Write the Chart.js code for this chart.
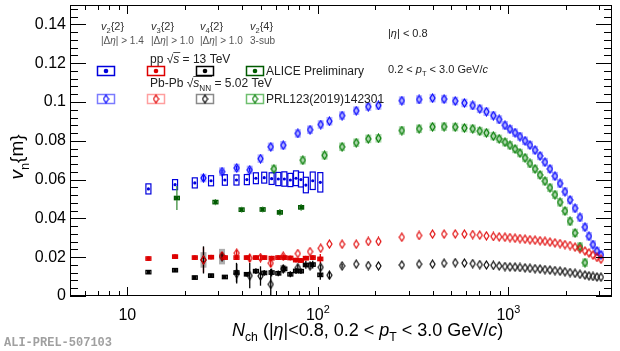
<!DOCTYPE html>
<html>
<head>
<meta charset="utf-8">
<script src="https://cdn.jsdelivr.net/npm/chart.js@4"></script>
<style>
html, body { margin: 0; padding: 0; background: #fff; }
</style>
</head>
<body>
<canvas id="vnChart" width="620" height="351"></canvas>
<script>
// pp 13 TeV (ALICE Preliminary)
const ppNch = [12.9, 17.8, 22.6, 27.5, 32.5, 37.4, 42.4, 47.3, 52.3, 57.2, 62, 66.7, 71.7, 76.8, 81.5, 86.5, 94, 103];
const ppV22 = [0.0552, 0.0574, 0.0583, 0.0594, 0.0598, 0.0598, 0.06, 0.0607, 0.061, 0.0605, 0.0603, 0.0603, 0.0598, 0.0607, 0.06, 0.0572, 0.0594, 0.0586];
const ppV22Sys = [0.0026, 0.0026, 0.0026, 0.0026, 0.0027, 0.0026, 0.0026, 0.0028, 0.0028, 0.003, 0.0034, 0.0037, 0.0034, 0.0038, 0.0038, 0.004, 0.0045, 0.005];
const ppV32 = [0.0193, 0.0203, 0.0198, 0.02, 0.0198, 0.0198, 0.0198, 0.0198, 0.0198, 0.0195, 0.0198, 0.0198, 0.0196, 0.0185, 0.0183, 0.0195, 0.0198, 0.0191];
const ppV32Err = [0.0005, 0.0005, 0.0005, 0.0005, 0.0005, 0.0005, 0.0005, 0.0005, 0.0005, 0.0005, 0.0005, 0.0005, 0.0006, 0.0008, 0.0008, 0.001, 0.001, 0.0025];
const ppV42 = [0.0123, 0.0133, 0.0095, 0.0105, 0.0098, 0.0121, 0.0112, 0.0128, 0.0119, 0.0121, 0.0117, 0.014, 0.0112, 0.0129, 0.0128, 0.016, 0.0162, 0.0109];
const ppV42Err = [0.0005, 0.0005, 0.0008, 0.0008, 0.0008, 0.005, 0.001, 0.0015, 0.0015, 0.002, 0.0015, 0.0015, 0.0015, 0.0015, 0.0015, 0.002, 0.002, 0.0025];
const ppV24Nch = [18.2, 29, 39.8, 51.3, 63.2, 81.7];
const ppV24 = [0.0505, 0.0484, 0.0445, 0.0446, 0.0431, 0.0457];
const ppV24Err = [0.0062, 0.0016, 0.0015, 0.0015, 0.0017, 0.0017];

// Pb-Pb 5.02 TeV, PRL123(2019)142301
const pbNch = [25.1, 31.4, 37.5, 43.9, 50, 56.6, 65.8, 78.5, 91, 103.5, 115, 134, 159, 184, 208, 276, 340, 400,
  460, 526, 588, 650, 708, 767, 834, 895, 960,
  1020, 1084, 1151, 1223, 1299, 1380, 1466, 1557, 1654, 1757, 1867, 1983, 2107, 2238, 2377, 2525,
  2650, 2781, 2919, 3063];
const pbV22 = [0.0608, 0.0641, 0.066, 0.065, 0.0708, 0.0769, 0.0777, 0.0838, 0.0857, 0.0884, 0.0901, 0.093, 0.0955, 0.0976, 0.0982, 0.1007, 0.1013, 0.102,
  0.1015, 0.1005, 0.0995, 0.0982, 0.0965, 0.095, 0.093, 0.091, 0.088,
  0.086, 0.0842, 0.0822, 0.08, 0.0778, 0.0752, 0.0722, 0.069, 0.0655, 0.0618, 0.058, 0.0538, 0.0495, 0.0452, 0.0405, 0.0355,
  0.0308, 0.0265, 0.0232, 0.0212];
const pbV22Err = [0.0015, 0.001, 0.001, 0.001];
const pbV32 = [0.0186, 0.0207, 0.0221, 0.0195, 0.0198, 0.0169, 0.0205, 0.0219, 0.0229, 0.0246, 0.0268, 0.0267, 0.0267, 0.0281, 0.0281, 0.0303, 0.0312, 0.0319,
  0.0319, 0.032, 0.0319, 0.0317, 0.0314, 0.031, 0.0307, 0.0305, 0.0303,
  0.0301, 0.0298, 0.0296, 0.0293, 0.029, 0.0288, 0.0285, 0.0282, 0.0278, 0.0274, 0.027, 0.0265, 0.026, 0.0252, 0.0243, 0.0232,
  0.0222, 0.0211, 0.0199, 0.019];
const pbV32Err = [0.0065, 0.002, 0.0015, 0.002, 0.0015, 0.002, 0.001];
const pbV42 = [0.0186, 0.0203, 0.0115, 0.0105, 0.0103, 0.006, 0.014, 0.0146, 0.0155, 0.0148, 0.0107, 0.0155, 0.0164, 0.0157, 0.0155, 0.016, 0.0164, 0.0164,
  0.0169, 0.0172, 0.017, 0.0167, 0.0162, 0.016, 0.0158, 0.0155, 0.0152,
  0.015, 0.0149, 0.0147, 0.0145, 0.0143, 0.0141, 0.0139, 0.0136, 0.0134, 0.0131, 0.0128, 0.0125, 0.0121, 0.0117, 0.0112, 0.0108,
  0.0104, 0.0101, 0.0098, 0.0097];
const pbV42Err = [0.007, 0.002, 0.005, 0.0065, 0.005, 0.008, 0.002, 0.0015, 0.0015, 0.0015, 0.002, 0.001];
const pbV42Sys = [0.004, 0.004, 0, 0, 0, 0, 0.002];
const pbV24Nch = [58.8, 83.4, 108.5, 134, 159, 184, 208, 276, 340, 400,
  460, 526, 588, 650, 708, 767, 834, 895, 960,
  1020, 1084, 1151, 1223, 1299, 1380, 1466, 1557, 1654, 1757, 1867, 1983, 2107, 2238, 2377, 2525];
const pbV24 = [0.0655, 0.07, 0.0725, 0.0769, 0.079, 0.081, 0.0813, 0.0853, 0.0862, 0.0872,
  0.0873, 0.0871, 0.0866, 0.0862, 0.085, 0.0841, 0.0824, 0.081, 0.0793,
  0.0777, 0.0758, 0.0737, 0.0712, 0.0683, 0.0655, 0.0624, 0.0592, 0.0558, 0.0522, 0.0483, 0.0438, 0.0385, 0.0325, 0.0255, 0.0172];
const pbV2Sys = 0.0022;

const yTicks = [0, 0.02, 0.04, 0.06, 0.08, 0.1, 0.12, 0.14];
const xDecades = [10, 100, 1000];

const FONT = '"Liberation Sans", Arial, Helvetica, sans-serif';

function pts(xs, ys) {
  return xs.map((v, i) => ({ x: v, y: ys[i] }));
}

// tall open diamond like ROOT marker 27
function diamond(color) {
  const c = document.createElement('canvas');
  c.width = 7; c.height = 10;
  const g = c.getContext('2d');
  g.strokeStyle = color;
  g.lineWidth = 1.15;
  g.beginPath();
  g.moveTo(3.5, 1); g.lineTo(6, 5); g.lineTo(3.5, 9); g.lineTo(1, 5); g.closePath();
  g.stroke();
  return c;
}
const dBlue = diamond('#0000ff');
const dRed = diamond('#e00000');
const dBlack = diamond('#000000');
const dGreen = diamond('#007a00');

function richText(ctx, parts, x, y, size, align) {
  let w = 0;
  const items = parts.map(([t, k]) => {
    const small = k === 'sub' || k === 'sup' || k === 'isub';
    const fs = small ? size * 0.68 : size;
    const font = (k === 'i' || k === 'isub' ? 'italic ' : '') + fs + 'px ' + FONT;
    ctx.font = font;
    const tw = ctx.measureText(t).width;
    const dy = (k === 'sub' || k === 'isub') ? size * 0.3 : k === 'sup' ? -size * 0.42 : 0;
    const it = { t, font, tw, dy, x0: w };
    w += tw;
    return it;
  });
  const sx = align === 'center' ? x - w / 2 : align === 'right' ? x - w : x;
  for (const it of items) {
    ctx.font = it.font;
    ctx.fillText(it.t, sx + it.x0, y + it.dy);
  }
  return { x: sx, w, items };
}

const rootStyle = {
  id: 'rootStyle',
  beforeDatasetsDraw(chart) {
    const { ctx, chartArea: a, scales: { x, y } } = chart;
    ctx.save();
    ctx.beginPath();
    ctx.rect(a.left, a.top, a.right - a.left, a.bottom - a.top);
    ctx.clip();
    // filled boxes first, then outlines and error bars
    for (const pass of [0, 1]) {
      chart.data.datasets.forEach(ds => {
        ds.data.forEach((p, i) => {
          const px = x.getPixelForValue(p.x);
          const s = ds.sys ? ds.sys[i] : ds.sysAll;
          if (s && pass === 0 && ds.boxFill) {
            const y1 = y.getPixelForValue(p.y + s), y2 = y.getPixelForValue(p.y - s);
            ctx.fillStyle = ds.boxFill;
            ctx.fillRect(px - ds.boxWidth / 2, y1, ds.boxWidth, y2 - y1);
          }
          if (s && pass === 1 && ds.boxLine) {
            const y1 = y.getPixelForValue(p.y + s), y2 = y.getPixelForValue(p.y - s);
            ctx.strokeStyle = ds.boxLine;
            ctx.lineWidth = 1.2;
            ctx.strokeRect(px - ds.boxWidth / 2, y1, ds.boxWidth, y2 - y1);
          }
          const e = ds.err ? ds.err[i] : 0;
          if (e && pass === 1) {
            ctx.strokeStyle = ds.errColor;
            ctx.lineWidth = 1.3;
            ctx.beginPath();
            ctx.moveTo(px, y.getPixelForValue(p.y + e));
            ctx.lineTo(px, y.getPixelForValue(p.y - e));
            ctx.stroke();
          }
        });
      });
    }
    ctx.restore();
  },
  afterDraw(chart) {
    const { ctx, chartArea: a, scales: { x, y } } = chart;
    ctx.save();
    ctx.strokeStyle = '#000';
    ctx.lineWidth = 1;
    ctx.strokeRect(a.left + 0.5, a.top + 0.5, a.right - a.left - 1, a.bottom - a.top - 1);

    // y ticks, mirrored on the right
    ctx.beginPath();
    for (let k = 0; k <= 37; k++) {
      const v = k * 0.004;
      const py = Math.round(y.getPixelForValue(v)) + 0.5;
      const len = k % 5 === 0 ? 16 : 8;
      ctx.moveTo(a.left, py); ctx.lineTo(a.left + len, py);
      ctx.moveTo(a.right, py); ctx.lineTo(a.right - len, py);
    }
    // x ticks, mirrored on top
    for (let d = 1; d <= 1000; d *= 10) {
      for (let m = 1; m <= 9; m++) {
        const v = d * m;
        if (v < 5 || v > 3500) continue;
        const px = Math.round(x.getPixelForValue(v)) + 0.5;
        const len = m === 1 ? 9 : 5;
        ctx.moveTo(px, a.bottom); ctx.lineTo(px, a.bottom - len);
        ctx.moveTo(px, a.top); ctx.lineTo(px, a.top + len);
      }
    }
    ctx.stroke();

    ctx.fillStyle = '#000';
    ctx.font = '16px ' + FONT;
    ctx.textAlign = 'right';
    ctx.textBaseline = 'middle';
    yTicks.forEach(v => ctx.fillText(String(v), a.left - 4, y.getPixelForValue(v)));
    ctx.textAlign = 'left';
    ctx.textBaseline = 'alphabetic';
    xDecades.forEach((v, i) => {
      const parts = i === 0 ? [['10', '']] : [['10', ''], [String(i + 1), 'sup']];
      richText(ctx, parts, x.getPixelForValue(v), 320, 16, 'center');
    });

    // axis titles
    richText(ctx, [['N', 'i'], ['ch', 'sub'], [' (|', ''], ['η', 'i'], ['|<0.8, 0.2 < ', ''], ['p', 'i'], ['T', 'sub'], [' < 3.0 GeV/', ''], ['c', 'i'], [')', '']], 232, 336, 18, 'left');
    ctx.save();
    ctx.translate(23, 157);
    ctx.rotate(-Math.PI / 2);
    richText(ctx, [['v', 'i'], ['n', 'sub'], ['{m}', '']], 0, 0, 19, 'center');
    ctx.restore();

    ctx.fillStyle = '#a0a0a0';
    ctx.font = 'bold 12px "Liberation Mono", "DejaVu Sans Mono", monospace';
    ctx.fillText('ALI-PREL-507103', 4, 346);

    // legend
    const cols = [97, 147, 196, 246];
    const heads = [
      [['v', 'i'], ['2', 'sub'], ['{2}', '']],
      [['v', 'i'], ['3', 'sub'], ['{2}', '']],
      [['v', 'i'], ['4', 'sub'], ['{2}', '']],
      [['v', 'i'], ['2', 'sub'], ['{4}', '']]
    ];
    const cuts = ['1.4', '1.0', '1.0', null];
    ctx.fillStyle = '#333';
    heads.forEach((h, i) => richText(ctx, h, cols[i] + 4, 30, 11, 'left'));
    ctx.fillStyle = '#555';
    cuts.forEach((c, i) => {
      const parts = c ? [['|Δ', ''], ['η', 'i'], ['| > ' + c, '']] : [['3-sub', '']];
      richText(ctx, parts, cols[i] + 4, 44, 10, 'left');
    });

    ctx.fillStyle = '#222';
    let r = richText(ctx, [['pp ', ''], ['√', ''], ['s', 'i'], [' = 13 TeV', '']], 150, 63, 12, 'left');
    let it = r.items[2];
    ctx.fillRect(r.x + it.x0, 52, it.tw + 1, 0.8);
    r = richText(ctx, [['Pb-Pb ', ''], ['√', ''], ['s', 'i'], ['NN', 'sub'], [' = 5.02 TeV', '']], 150, 87, 12, 'left');
    it = r.items[2];
    ctx.fillRect(r.x + it.x0, 76, it.tw + r.items[3].tw + 1, 0.8);
    ctx.font = '12px ' + FONT;
    ctx.fillText('ALICE Preliminary', 266, 75);
    ctx.fillText('PRL123(2019)142301', 266, 103);

    const ppCol = ['#0000dd', '#dd0000', '#000000', '#005a00'];
    const pbLine = ['#7b7bff', '#ff9f9f', '#8a8a8a', '#6fbf6f'];
    const pbImg = [dBlue, dRed, dBlack, dGreen];
    cols.forEach((cx, i) => {
      ctx.lineWidth = 1.5;
      ctx.strokeStyle = ppCol[i];
      ctx.strokeRect(cx + 0.5, 66.5, 17, 9);
      ctx.fillStyle = ppCol[i];
      ctx.beginPath();
      ctx.arc(cx + 9, 71, 2.3, 0, Math.PI * 2);
      ctx.fill();
      ctx.strokeStyle = pbLine[i];
      ctx.strokeRect(cx + 0.5, 94.5, 17, 9);
      ctx.drawImage(pbImg[i], cx + 5.5, 94);
    });

    ctx.fillStyle = '#222';
    richText(ctx, [['|', ''], ['η', 'i'], ['| < 0.8', '']], 388, 37, 11, 'left');
    richText(ctx, [['0.2 < ', ''], ['p', 'i'], ['T', 'sub'], [' < 3.0 GeV/', ''], ['c', 'i']], 388, 73, 11, 'left');
    ctx.restore();
  }
};

const datasets = [
  {
    label: 'pp v2{2}', data: pts(ppNch, ppV22), sys: ppV22Sys, boxLine: '#0000dd', boxWidth: 5,
    pointStyle: 'circle', pointRadius: 1.6, backgroundColor: '#0000dd', borderWidth: 0
  },
  {
    label: 'pp v3{2}', data: pts(ppNch, ppV32), sysAll: 0.0009, boxLine: '#dd0000', boxWidth: 5,
    err: ppV32Err, errColor: '#dd0000',
    pointStyle: 'circle', pointRadius: 2.4, backgroundColor: '#dd0000', borderWidth: 0
  },
  {
    label: 'pp v4{2}', data: pts(ppNch, ppV42), sysAll: 0.0009, boxLine: '#000000', boxWidth: 5,
    err: ppV42Err, errColor: '#000000',
    pointStyle: 'rect', pointRadius: 2.6, backgroundColor: '#000000', borderWidth: 0
  },
  {
    label: 'pp v2{4}', data: pts(ppV24Nch, ppV24), sysAll: 0.0009, boxLine: '#005a00', boxWidth: 5,
    err: ppV24Err, errColor: '#3f8f3f',
    pointStyle: 'rect', pointRadius: 2.6, backgroundColor: '#005a00', borderWidth: 0
  },
  {
    label: 'Pb-Pb v3{2}', data: pts(pbNch, pbV32), err: pbV32Err, errColor: '#e00000',
    pointStyle: dRed, pointRadius: 4
  },
  {
    label: 'Pb-Pb v4{2}', data: pts(pbNch, pbV42), err: pbV42Err, errColor: '#000000',
    sys: pbV42Sys, boxFill: 'rgba(140,140,140,0.7)', boxWidth: 6,
    pointStyle: dBlack, pointRadius: 4
  },
  {
    label: 'Pb-Pb v2{2}', data: pts(pbNch, pbV22), err: pbV22Err, errColor: '#0000ff',
    sysAll: pbV2Sys, boxFill: 'rgba(120,120,255,0.55)', boxWidth: 6,
    pointStyle: dBlue, pointRadius: 4
  },
  {
    label: 'Pb-Pb v2{4}', data: pts(pbV24Nch, pbV24),
    sysAll: pbV2Sys, boxFill: 'rgba(110,185,110,0.55)', boxWidth: 6,
    pointStyle: dGreen, pointRadius: 4
  }
];

const ctx = document.getElementById('vnChart').getContext('2d');
const vnChart = new Chart(ctx, {
  type: 'scatter',
  data: { datasets: datasets },
  options: {
    responsive: false,
    animation: false,
    devicePixelRatio: 1,
    layout: { padding: { top: 5, right: 8, left: 0, bottom: 0 } },
    plugins: {
      legend: { display: false },
      tooltip: { enabled: false }
    },
    scales: {
      x: {
        type: 'logarithmic', min: 5, max: 3500,
        ticks: { display: false }, grid: { display: false }, border: { display: false },
        afterFit: s => { s.height = 55; }
      },
      y: {
        min: 0, max: 0.15,
        ticks: { display: false }, grid: { display: false }, border: { display: false },
        afterFit: s => { s.width = 70; }
      }
    }
  },
  plugins: [rootStyle]
});
</script>
</body>
</html>
